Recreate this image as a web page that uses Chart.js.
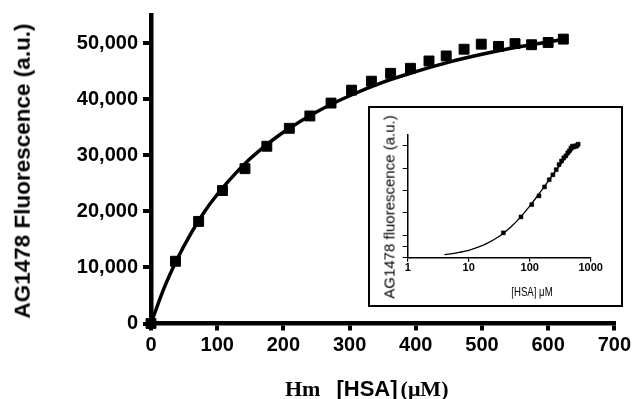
<!DOCTYPE html>
<html>
<head>
<meta charset="utf-8">
<script src="https://cdn.jsdelivr.net/npm/chart.js@4.4.1/dist/chart.umd.min.js"></script>
<style>
  html, body { margin: 0; padding: 0; background: #fff; }
  #wrap { position: relative; width: 634px; height: 399px; overflow: hidden; }
  #main { position: absolute; left: 0; top: 0; }
  .sans { font-family: "Liberation Sans", Arial, sans-serif; }
  .serif { font-family: "Liberation Serif", "Times New Roman", serif; }
  .ytitle {
    position: absolute; left: 22.5px; top: 171px;
    transform: translate(-50%, -50%) rotate(-90deg);
    white-space: nowrap; font: bold 22.5px "Liberation Sans", Arial, sans-serif;
    line-height: 1; color: #000;
  }
  .xtitle {
    position: absolute; left: 285px; top: 378px; white-space: nowrap;
    font-size: 22px; font-weight: bold; line-height: 22px; color: #000;
  }
  #inset {
    position: absolute; left: 368px; top: 106px; width: 251px; height: 197px;
    border: 2px solid #000; background: #fff;
  }
  #insetChart { position: absolute; left: 0; top: 0; }
  .iytitle {
    position: absolute; left: 389px; top: 206.5px;
    transform: translate(-50%, -50%) rotate(-90deg);
    white-space: nowrap; font: 15px "Liberation Sans", Arial, sans-serif;
    line-height: 1; color: #000;
  }
  .ixtitle {
    position: absolute; left: 531.7px; top: 291px;
    transform: translate(-50%, -50%) scaleX(0.74);
    white-space: nowrap; font: 13px "Liberation Sans", Arial, sans-serif;
    line-height: 1; color: #000;
  }
</style>
</head>
<body>
<div id="wrap">
  <canvas id="main" width="634" height="399"></canvas>
  <div class="ytitle">AG1478 Fluorescence (a.u.)</div>
  <div class="xtitle"><span class="serif">Hm</span><span class="sans" style="margin-left:16px">[HSA]</span><span class="serif" style="margin-left:3px">(μM)</span></div>
  <div id="inset"><canvas id="insetChart" width="251" height="197"></canvas></div>
  <div class="iytitle">AG1478 fluorescence (a.u.)</div>
  <div class="ixtitle">[HSA] μM</div>
</div>
<script>
  // measured points, [HSA] in uM vs fluorescence
  const hsaConc = [0, 37, 72, 108, 142, 175, 209, 240, 272, 303, 333, 362, 392, 420, 446, 473, 499, 525, 550, 575, 600, 623];
  const fluorescence = [0, 11100, 18200, 23700, 27600, 31600, 34800, 37000, 39300, 41600, 43200, 44600, 45500, 46800, 47700, 48900, 49800, 49400, 49900, 49700, 50100, 50700];

  // fitted binding curve
  const fitConc = [0, 20, 40, 60, 80, 100, 125, 150, 175, 200, 250, 300, 350, 400, 450, 500, 550, 600, 630];
  const fitSignal = [0, 6400, 11600, 16000, 19800, 23000, 26400, 29400, 31900, 34100, 37700, 40600, 43000, 44900, 46600, 48000, 49200, 50200, 50800];

  // fitted curve
  const insetFitConc = [4, 5, 7, 10, 15, 20, 30, 40, 50, 70, 100, 150, 200, 300, 400, 500, 630];
  const insetFitSignal = [1400, 1700, 2400, 3300, 4900, 6400, 9100, 11600, 13900, 18000, 23000, 29400, 34100, 40600, 44900, 48000, 50800];

  const xTicks = [0, 100, 200, 300, 400, 500, 600, 700];
  const yTicks = [0, 10000, 20000, 30000, 40000, 50000];
  const insetXTicks = [1, 10, 100, 1000];
  const insetYTicks = [0, 5000, 10000, 20000, 30000, 40000, 50000];

  const sans = '"Liberation Sans", Arial, sans-serif';

  const points = hsaConc.map((x, i) => ({ x, y: fluorescence[i] }));
  const fitLine = fitConc.map((x, i) => ({ x, y: fitSignal[i] }));
  const insetPoints = points.filter((p) => p.x > 0);
  const insetLine = insetFitConc.map((x, i) => ({ x, y: insetFitSignal[i] }));

  new Chart(document.getElementById("main"), {
    type: "scatter",
    data: {
      datasets: [
        {
          type: "line",
          data: fitLine,
          borderColor: "#000",
          borderWidth: 3.5,
          pointRadius: 0,
          cubicInterpolationMode: "monotone",
          fill: false,
          clip: false,
        },
        {
          data: points,
          pointStyle: "rect",
          pointRadius: 7,
          backgroundColor: "#000",
          borderColor: "#000",
          borderWidth: 1,
          showLine: false,
          clip: false,
        },
      ],
    },
    options: {
      responsive: false,
      animation: false,
      layout: { padding: { top: 13, right: 18, left: 0, bottom: 0 } },
      plugins: { legend: { display: false }, tooltip: { enabled: false } },
      scales: {
        x: {
          type: "linear",
          min: 0,
          max: 700,
          afterBuildTicks: (axis) => { axis.ticks = xTicks.map((v) => ({ value: v })); },
          afterFit: (axis) => { axis.height = 75.5; },
          border: { color: "#000", width: 4.5 },
          grid: { drawOnChartArea: false, color: "#000", tickLength: 7, lineWidth: 4 },
          ticks: {
            color: "#000",
            padding: 3,
            maxRotation: 0,
            font: { family: sans, size: 20, weight: "bold" },
            callback: (v) => String(v),
          },
        },
        y: {
          min: 0,
          max: 55000,
          afterBuildTicks: (axis) => { axis.ticks = yTicks.map((v) => ({ value: v })); },
          afterFit: (axis) => { axis.width = 151; },
          border: { color: "#000", width: 4.5 },
          grid: { drawOnChartArea: false, color: "#000", tickLength: 8, lineWidth: 4 },
          ticks: {
            color: "#000",
            padding: 5,
            font: { family: sans, size: 20, weight: "bold", lineHeight: 1 },
            callback: (v) => v.toLocaleString("en-US"),
          },
        },
      },
    },
  });

  new Chart(document.getElementById("insetChart"), {
    type: "scatter",
    data: {
      datasets: [
        {
          type: "line",
          data: insetLine,
          borderColor: "#000",
          borderWidth: 1.3,
          pointRadius: 0,
          cubicInterpolationMode: "monotone",
          fill: false,
        },
        {
          data: insetPoints,
          pointStyle: "rect",
          pointRadius: 2.8,
          backgroundColor: "#000",
          borderColor: "#000",
          borderWidth: 0.5,
          showLine: false,
          clip: false,
        },
      ],
    },
    options: {
      responsive: false,
      animation: false,
      layout: { padding: { top: 26.5, right: 30.3, left: 0, bottom: 0 } },
      plugins: { legend: { display: false }, tooltip: { enabled: false } },
      scales: {
        x: {
          type: "logarithmic",
          min: 1,
          max: 1000,
          afterBuildTicks: (axis) => { axis.ticks = insetXTicks.map((v) => ({ value: v })); },
          afterFit: (axis) => { axis.height = 47.3; },
          border: { color: "#000", width: 1.5 },
          grid: { drawOnChartArea: false, color: "#000", tickLength: 4, lineWidth: 1.2 },
          ticks: {
            color: "#000",
            padding: 1,
            maxRotation: 0,
            font: { family: sans, size: 11, weight: "bold", lineHeight: 1 },
            callback: (v) => String(v),
          },
        },
        y: {
          min: 0,
          max: 55000,
          afterBuildTicks: (axis) => { axis.ticks = insetYTicks.map((v) => ({ value: v })); },
          afterFit: (axis) => { axis.width = 37.7; },
          border: { color: "#000", width: 1.5 },
          grid: { drawOnChartArea: false, color: "#000", tickLength: 5, lineWidth: 1 },
          ticks: { display: true, padding: 0, font: { size: 1 }, callback: () => "" },
        },
      },
    },
  });
</script>
</body>
</html>
